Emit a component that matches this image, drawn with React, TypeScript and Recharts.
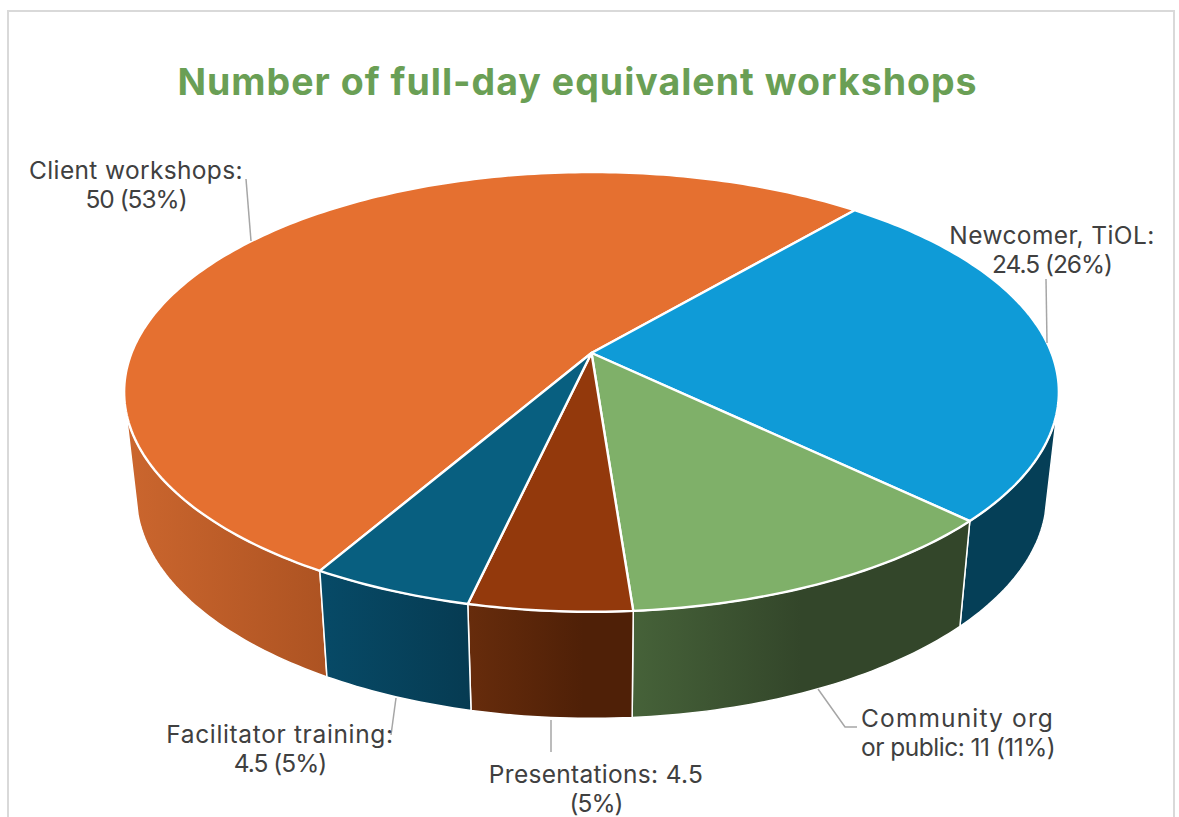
import { Pie, PieChart } from 'recharts';

const categories = ['Client workshops', 'Newcomer, TiOL', 'Community org or public', 'Presentations', 'Facilitator training'];
const workshops = [50, 24.5, 11, 4.5, 4.5];
const labelLines = [
  ['Client workshops:', '50 (53%)'],
  ['Newcomer, TiOL:', '24.5 (26%)'],
  ['Community org', 'or public: 11 (11%)'],
  ['Presentations: 4.5', '(5%)'],
  ['Facilitator training:', '4.5 (5%)'],
];
const topColors = ['#E57030', '#0F9BD7', '#7FB069', '#93390C', '#085F80'];
const wallFrom = ['#CB662E', '#053F57', '#466239', '#672C0C', '#074A67'];
const wallTo = ['#AD5322', '#053F57', '#33462A', '#4F2007', '#063B52'];
const wallToOffset = [1, 1, 0.5, 0.7, 1];

const tableData = categories.map((name, i) => ({
  name,
  value: workshops[i],
  fill: topColors[i],
  wallFrom: wallFrom[i],
  wallTo: wallTo[i],
  wallToOffset: wallToOffset[i],
}));

// layout of the callouts, in page pixels
const labelBoxes = [
  { x: 136, y: 171, anchor: 'middle' },
  { x: 1052, y: 236, anchor: 'middle' },
  { x: 861, y: 719, anchor: 'start' },
  { x: 596, y: 775, anchor: 'middle' },
  { x: 280, y: 735, anchor: 'middle' },
];
const lineSpacing = [
  [0.35, -1],
  [0.4, -1],
  [1.15, -0.5],
  [0.3, -1],
  [0.65, -1],
];
const leaders = [
  '246,179 251,241',
  '1046,279 1047,343',
  '818,689 845,727 857,727',
  '551,720 551,752',
  '396,698 391,735',
];

const APEX_X = 591.5;
const APEX_Y = 353;
const RADIUS = 460;
const SQUASH = 0.463; // height of the top disc against its width
const PERSPECTIVE = -0.177; // front of the disc is drawn larger than the back
const BOTTOM_Y = 456;
const BOTTOM_RADIUS = 448;
const BOTTOM_SQUASH = 0.482;
const SILHOUETTE = 15; // degrees below horizontal where the side wall turns away

const project = (deg: number, apexY: number, radius: number, squash: number) => {
  const c = Math.cos((deg * Math.PI) / 180);
  const s = -Math.sin((deg * Math.PI) / 180);
  const w = 1 + PERSPECTIVE * s;
  return [APEX_X + (radius * c) / w, apexY + (radius * squash * s) / w];
};

const topPoint = (deg: number) => project(deg, APEX_Y, RADIUS, SQUASH);
const bottomPoint = (deg: number) => project(deg, BOTTOM_Y, BOTTOM_RADIUS, BOTTOM_SQUASH);

const sweep = (from: number, to: number) => {
  const count = Math.max(2, Math.ceil(Math.abs(from - to)));
  return Array.from({ length: count + 1 }, (_, i) => from + ((to - from) * i) / count);
};

const toPath = (points: number[][]) =>
  points.map((p, i) => `${i ? 'L' : 'M'}${p[0].toFixed(2)} ${p[1].toFixed(2)}`).join(' ') + ' Z';

function TopSlice(props: any) {
  const { startAngle, endAngle, fill } = props;
  const points = [[APEX_X, APEX_Y], ...sweep(startAngle, endAngle).map(topPoint)];
  return <path d={toPath(points)} fill={fill} stroke="#fff" strokeWidth={2.4} strokeLinejoin="round" />;
}

function WallSlice(props: any) {
  const { startAngle, endAngle, index, payload } = props;
  const nearStart = -180 + SILHOUETTE;
  const nearEnd = -SILHOUETTE;
  for (const shift of [0, -360]) {
    const from = Math.min(startAngle + shift, nearEnd);
    const to = Math.max(endAngle + shift, nearStart);
    if (from > to) {
      const angles = sweep(from, to);
      const points = [...angles.map(topPoint), ...[...angles].reverse().map(bottomPoint)];
      const id = `wall-${index}`;
      return (
        <g>
          <defs>
            <linearGradient id={id} x1="0" y1="0" x2="1" y2="0">
              <stop offset="0" stopColor={payload.wallFrom} />
              <stop offset={payload.wallToOffset} stopColor={payload.wallTo} />
            </linearGradient>
          </defs>
          <path d={toPath(points)} fill={`url(#${id})`} stroke="#fff" strokeWidth={1.5} strokeLinejoin="round" />
        </g>
      );
    }
  }
  return <g />;
}

function Callout(props: any) {
  const { index } = props;
  const box = labelBoxes[index];
  return (
    <g>
      <polyline points={leaders[index]} fill="none" stroke="#A6A6A6" strokeWidth={1.5} />
      <text
        x={box.x}
        y={box.y}
        textAnchor={box.anchor as any}
        fill="#404040"
        style={{ fontFamily: 'Inter, sans-serif', fontSize: 24.5 }}
      >
        {labelLines[index].map((line, i) => (
          <tspan key={line} x={box.x} dy={i ? 29 : 8} style={{ letterSpacing: lineSpacing[index][i] }}>
            {line}
          </tspan>
        ))}
      </text>
    </g>
  );
}

export default function App() {
  return (
    <div style={{ position: 'absolute', left: 0, top: 0, width: 1179, height: 817, overflow: 'hidden', background: '#fff' }}>
      <div
        style={{
          position: 'absolute',
          left: 7,
          top: 10,
          width: 1168,
          height: 900,
          boxSizing: 'border-box',
          border: '2px solid #D9D9D9',
        }}
      />
      <div
        style={{
          position: 'absolute',
          left: 0,
          top: 58,
          width: 1155,
          textAlign: 'center',
          fontFamily: 'Inter, sans-serif',
          fontWeight: 700,
          fontSize: 37.5,
          lineHeight: '48px',
          letterSpacing: 1,
          color: '#6A9F55',
        }}
      >
        Number of full-day equivalent workshops
      </div>
      <div style={{ position: 'absolute', left: 0, top: 0 }}>
        <PieChart width={1179} height={817}>
          <Pie
            data={tableData}
            dataKey="value"
            nameKey="name"
            cx={APEX_X}
            cy={APEX_Y}
            outerRadius={RADIUS}
            startAngle={240}
            endAngle={-120}
            stroke="none"
            shape={WallSlice}
            isAnimationActive={false}
          />
          <Pie
            data={tableData}
            dataKey="value"
            nameKey="name"
            cx={APEX_X}
            cy={APEX_Y}
            outerRadius={RADIUS}
            startAngle={240}
            endAngle={-120}
            stroke="none"
            shape={TopSlice}
            label={Callout}
            labelLine={false}
            isAnimationActive={false}
          />
        </PieChart>
      </div>
    </div>
  );
}
